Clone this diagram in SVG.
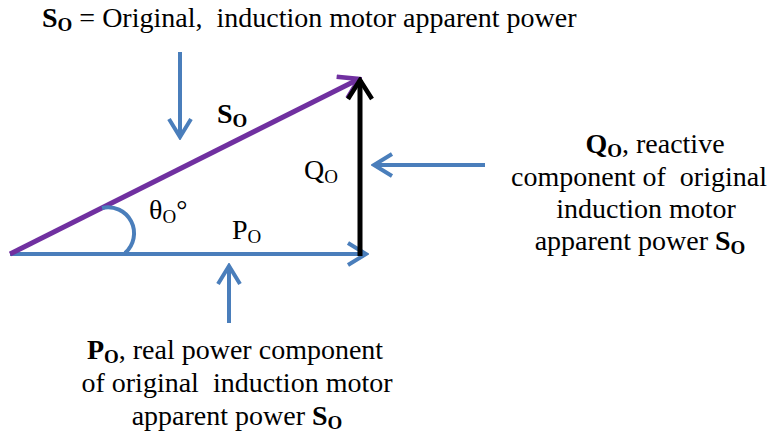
<svg xmlns="http://www.w3.org/2000/svg" width="771" height="438" viewBox="0 0 771 438">
<defs>
<marker id="ab" viewBox="0 0 24 26" refX="21" refY="13" markerWidth="24" markerHeight="26" markerUnits="userSpaceOnUse" orient="auto"><path d="M3,2 L21,13 L3,24" fill="none" stroke="#4a7ebb" stroke-width="4"/></marker>
<marker id="ap" viewBox="0 0 24 28" refX="21" refY="14" markerWidth="24" markerHeight="28" markerUnits="userSpaceOnUse" orient="auto"><path d="M2,2 L21,14 L2,26" fill="none" stroke="#7030a0" stroke-width="4.5"/></marker>
<marker id="ak" viewBox="0 0 24 28" refX="21" refY="14" markerWidth="24" markerHeight="28" markerUnits="userSpaceOnUse" orient="auto"><path d="M2,2 L21,14 L2,26" fill="none" stroke="#000" stroke-width="4.5"/></marker>
</defs>
<g id="connectors" fill="none">
<line x1="10" y1="254" x2="366" y2="254" stroke="#4a7ebb" stroke-width="4" marker-end="url(#ab)"/>
<line x1="10" y1="254" x2="359" y2="79" stroke="#7030a0" stroke-width="5" marker-end="url(#ap)"/>
<line x1="360" y1="256" x2="360" y2="80" stroke="#000" stroke-width="5" marker-end="url(#ak)"/>
<path d="M102,208 A26,26 0 0 1 125,253" stroke="#4a7ebb" stroke-width="4"/>
<line x1="180" y1="52" x2="180" y2="137" stroke="#4a7ebb" stroke-width="4" marker-end="url(#ab)"/>
<line x1="485" y1="165" x2="374" y2="165" stroke="#4a7ebb" stroke-width="4" marker-end="url(#ab)"/>
<line x1="229" y1="323" x2="229" y2="266" stroke="#4a7ebb" stroke-width="4" marker-end="url(#ab)"/>
</g>
<g id="title"><text x="42" y="27" font-family="Liberation Serif" font-size="28" xml:space="preserve"><tspan font-weight="bold">S</tspan><tspan font-weight="bold" font-size="19" dy="4">O</tspan><tspan dy="-4"> = Original,  induction motor apparent power</tspan></text></g>
<g id="label-so"><text x="217" y="123" font-family="Liberation Serif" font-size="28"><tspan font-weight="bold">S</tspan><tspan font-weight="bold" font-size="19" dy="4">O</tspan></text></g>
<g id="label-qo"><text x="304" y="179" font-family="Liberation Serif" font-size="28">Q<tspan font-size="19" dy="4">O</tspan></text></g>
<g id="label-theta"><text x="149" y="219" font-family="Liberation Serif" font-size="28">θ<tspan font-size="19" dy="4">O</tspan><tspan dy="-4">°</tspan></text></g>
<g id="label-po"><text x="232" y="239" font-family="Liberation Serif" font-size="28">P<tspan font-size="19" dy="4">O</tspan></text></g>
<g id="note-q">
<text x="655" y="153" font-family="Liberation Serif" font-size="28" text-anchor="middle"><tspan font-weight="bold">Q</tspan><tspan font-weight="bold" font-size="19" dy="4">O</tspan><tspan dy="-4">, reactive</tspan></text>
<text x="639" y="186" font-family="Liberation Serif" font-size="28" text-anchor="middle" xml:space="preserve">component of  original</text>
<text x="646" y="218" font-family="Liberation Serif" font-size="28" text-anchor="middle">induction motor</text>
<text x="640" y="250" font-family="Liberation Serif" font-size="28" text-anchor="middle">apparent power <tspan font-weight="bold">S</tspan><tspan font-weight="bold" font-size="19" dy="4">O</tspan></text>
</g>
<g id="note-p">
<text x="235" y="359" font-family="Liberation Serif" font-size="28" text-anchor="middle"><tspan font-weight="bold">P</tspan><tspan font-weight="bold" font-size="19" dy="4">O</tspan><tspan dy="-4">, real power component</tspan></text>
<text x="237" y="392" font-family="Liberation Serif" font-size="28" text-anchor="middle" xml:space="preserve">of original  induction motor</text>
<text x="237" y="425" font-family="Liberation Serif" font-size="28" text-anchor="middle">apparent power <tspan font-weight="bold">S</tspan><tspan font-weight="bold" font-size="19" dy="4">O</tspan></text>
</g>
</svg>
